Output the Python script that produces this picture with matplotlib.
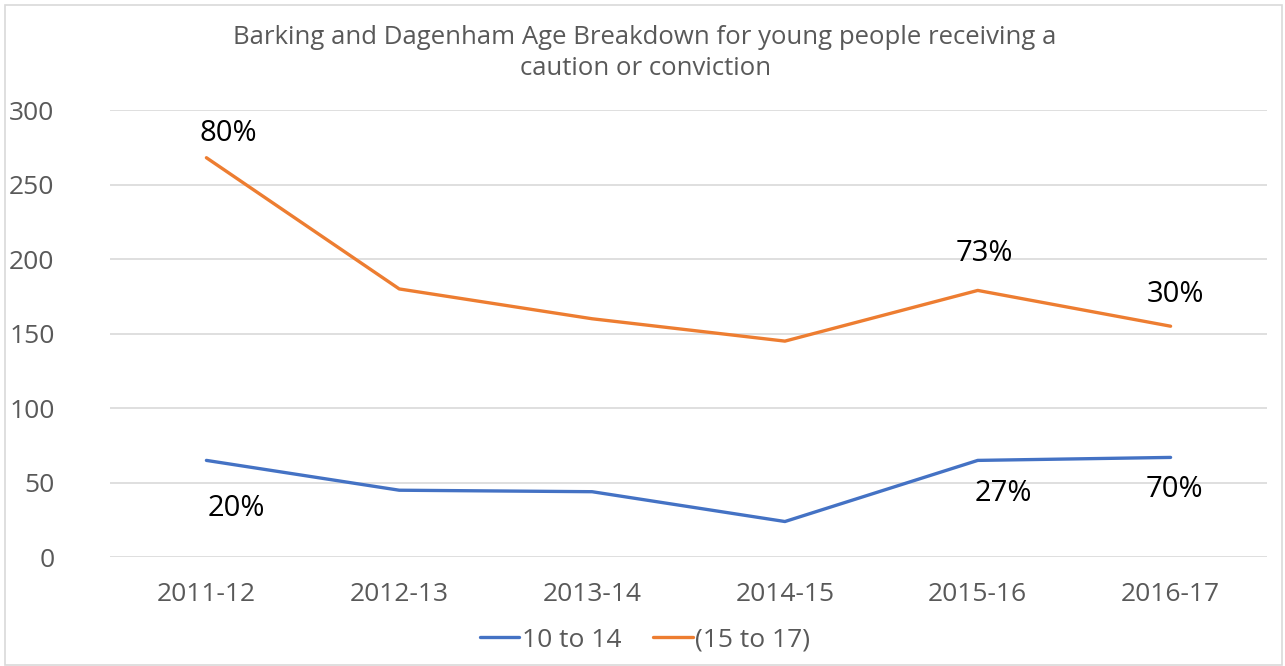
import matplotlib.pyplot as plt
from matplotlib.patches import Rectangle

years = ['2011-12', '2012-13', '2013-14', '2014-15', '2015-16', '2016-17']
age_10_14 = [65, 45, 44, 24, 65, 67]
age_15_17 = [268, 180, 160, 145, 179, 155]

# percentage labels (index, text, offset in pixels)
labels_10_14 = [(0, '20%', (30, -48)), (4, '27%', (26, -33)), (5, '70%', (4, -32))]
labels_15_17 = [(0, '80%', (22, 24)), (4, '73%', (7, 37)), (5, '30%', (5, 32))]

plt.rcParams['font.family'] = ['Open Sans', 'DejaVu Sans']
grey = '#595959'

fig = plt.figure(figsize=(12.85, 6.66), dpi=100)
ax = fig.add_axes([0.0856, 0.1632, 0.9004, 0.6716])

x = list(range(len(years)))
ax.plot(x, age_10_14, color='#4472C4', lw=2.4, label='10 to 14', solid_capstyle='round')
ax.plot(x, age_15_17, color='#ED7D31', lw=2.4, label='(15 to 17)', solid_capstyle='round')

for i, txt, off in labels_10_14:
    ax.annotate(txt, (x[i], age_10_14[i]), xytext=off, textcoords='offset pixels',
                ha='center', va='center', fontsize=21, color='black')
for i, txt, off in labels_15_17:
    ax.annotate(txt, (x[i], age_15_17[i]), xytext=off, textcoords='offset pixels',
                ha='center', va='center', fontsize=21, color='black')

ax.set_xlim(-0.5, 5.5)
ax.set_ylim(0, 300)
ax.set_yticks(range(0, 301, 50))
ax.set_xticks(x)
ax.set_xticklabels(years)
ax.tick_params(axis='both', length=0, labelsize=19, colors=grey)
ax.tick_params(axis='x', pad=18)
ax.tick_params(axis='y', pad=40)
ax.grid(axis='y', color='#D9D9D9', lw=1.2)
ax.set_axisbelow(True)
for s in ax.spines.values():
    s.set_visible(False)

fig.text(0.502, 0.921, 'Barking and Dagenham Age Breakdown for young people receiving a\ncaution or conviction',
         ha='center', va='center', fontsize=18.5, color=grey, linespacing=1.32)

leg = fig.legend(loc='center', bbox_to_anchor=(0.502, 0.039), ncol=2, frameon=False,
                 fontsize=19, handlelength=1.5, handletextpad=0.1, columnspacing=1.2)
for t in leg.get_texts():
    t.set_color(grey)

fig.patches.append(Rectangle((0.004, 0.002), 0.994, 0.99, transform=fig.transFigure,
                             fill=False, edgecolor='#D9D9D9', lw=1.2))

fig.savefig('out.png', dpi=100)
